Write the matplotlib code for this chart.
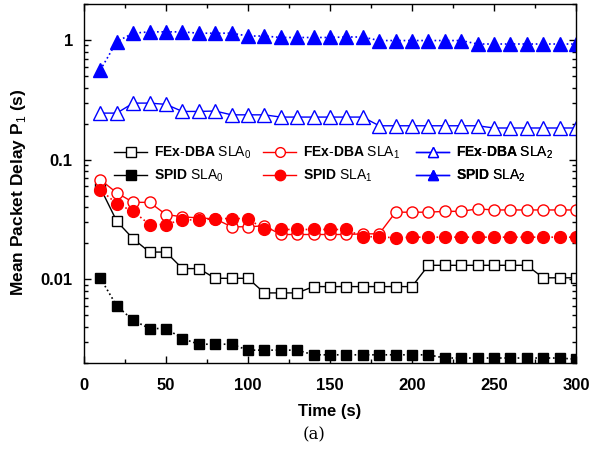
import matplotlib
matplotlib.use("Agg")
import matplotlib.pyplot as plt
from matplotlib.lines import Line2D
from matplotlib.ticker import FixedLocator, FuncFormatter, LogLocator, NullFormatter

plt.rcParams['font.family'] = 'Liberation Sans'
plt.rcParams['mathtext.fontset'] = 'custom'
plt.rcParams['mathtext.rm'] = 'Liberation Sans'
plt.rcParams['mathtext.bf'] = 'Liberation Sans:bold'

time = list(range(10, 301, 10))

fex_sla0 = [0.058, 0.0306, 0.0218, 0.0169, 0.0169, 0.0123, 0.0123, 0.0102, 0.0102, 0.0102,
            0.0077, 0.0077, 0.0077, 0.0087, 0.0087, 0.0087, 0.0087, 0.0087, 0.0087, 0.0087,
            0.0131, 0.0131, 0.0131, 0.0131, 0.0131, 0.0131, 0.0131, 0.0103, 0.0103, 0.0103]
fex_sla1 = [0.068, 0.0528, 0.044, 0.044, 0.0348, 0.0333, 0.0326, 0.032, 0.0275, 0.0275,
            0.028, 0.0237, 0.0237, 0.0237, 0.0237, 0.0237, 0.024, 0.024, 0.0364, 0.0364,
            0.0364, 0.037, 0.037, 0.0388, 0.038, 0.038, 0.038, 0.038, 0.038, 0.038]
fex_sla2 = [0.245, 0.245, 0.297, 0.297, 0.29, 0.253, 0.253, 0.255, 0.237, 0.237,
            0.237, 0.227, 0.227, 0.227, 0.227, 0.227, 0.227, 0.192, 0.192, 0.192,
            0.192, 0.192, 0.192, 0.192, 0.184, 0.184, 0.184, 0.184, 0.184, 0.184]
spid_sla0 = [0.0102, 0.006, 0.00455, 0.00388, 0.00388, 0.0032, 0.00287, 0.00287, 0.00287, 0.00256,
             0.00256, 0.00256, 0.00256, 0.00234, 0.00234, 0.00234, 0.00234, 0.00234, 0.00234, 0.00234,
             0.00234, 0.0022, 0.0022, 0.0022, 0.0022, 0.0022, 0.0022, 0.0022, 0.0022, 0.00215]
spid_sla1 = [0.056, 0.0428, 0.037, 0.0287, 0.0287, 0.0316, 0.0312, 0.0322, 0.0322, 0.0322,
             0.0261, 0.0261, 0.0261, 0.0261, 0.0261, 0.0261, 0.0227, 0.0227, 0.0222, 0.0225,
             0.0225, 0.0225, 0.0225, 0.0225, 0.0225, 0.0225, 0.0225, 0.0225, 0.0225, 0.0225]
spid_sla2 = [0.562, 0.97, 1.14, 1.17, 1.17, 1.17, 1.14, 1.14, 1.14, 1.08,
             1.08, 1.05, 1.05, 1.05, 1.05, 1.06, 1.06, 0.99, 0.99, 0.99,
             0.99, 0.99, 0.99, 0.926, 0.926, 0.926, 0.926, 0.926, 0.926, 0.926]

fex_labels = [r'$\mathbf{FEx}$-$\mathbf{DBA}$ SLA$_%d$' % i for i in range(3)]
spid_labels = [r'$\mathbf{SPID}$ SLA$_%d$' % i for i in range(3)]
colors = ['black', 'red', 'blue']
markers = ['s', 'o', '^']

fig = plt.figure(figsize=(6.02, 4.59), dpi=100)
ax = fig.add_axes([0.1395, 0.2092, 0.8173, 0.7821])

ax.plot(time, fex_sla0, '-', color='black', lw=1, marker='s', ms=7.5, mfc='white', mec='black')
ax.plot(time, fex_sla1, '-', color='red', lw=1, marker='o', ms=8, mfc='white', mec='red')
ax.plot(time, fex_sla2, '-', color='blue', lw=1, marker='^', ms=9.5, mfc='white', mec='blue')
ax.plot(time, spid_sla0, ':', color='black', lw=1.2, marker='s', ms=7.5, mfc='black', mec='black')
ax.plot(time, spid_sla1, ':', color='red', lw=1.2, marker='o', ms=8.5, mfc='red', mec='red')
ax.plot(time, spid_sla2, ':', color='blue', lw=1.2, marker='^', ms=10, mfc='blue', mec='blue')

ax.set_yscale('log')
ax.set_xlim(0, 300)
ax.set_ylim(0.002, 2.0)
ax.set_xticks([0, 50, 100, 150, 200, 250, 300])
ax.xaxis.set_minor_locator(FixedLocator([25, 75, 125, 175, 225, 275]))
ax.yaxis.set_major_locator(FixedLocator([0.01, 0.1, 1]))
ax.yaxis.set_major_formatter(FuncFormatter(lambda v, p: {0.01: '0.01', 0.1: '0.1', 1: '1'}.get(round(v, 3), '')))
ax.yaxis.set_minor_locator(LogLocator(base=10, subs=range(2, 10)))
ax.yaxis.set_minor_formatter(NullFormatter())
ax.tick_params(which='both', direction='in', top=True, right=True, width=1)
ax.tick_params(which='major', length=5, labelsize=12)
ax.tick_params(which='minor', length=3)
ax.tick_params(axis='x', which='major', pad=11)
ax.tick_params(axis='y', which='major', pad=8)
for lab in ax.get_xticklabels() + ax.get_yticklabels():
    lab.set_fontweight('bold')
for sp in ax.spines.values():
    sp.set_linewidth(1)

ax.set_xlabel('Time (s)', fontsize=12, fontweight='bold', labelpad=8)
ax.set_ylabel(r'Mean Packet Delay P$_1$ (s)', fontsize=12.5, fontweight='bold')
ax.yaxis.set_label_coords(-0.114, 0.476)

# one legend per column, like the original layout
col_x = [117, 266, 419]
for i in range(3):
    h_fex = Line2D([], [], color=colors[i], lw=1, marker=markers[i], ms=7, mfc='white', mec=colors[i])
    h_spid = Line2D([], [], color=colors[i], lw=1, marker=markers[i], ms=7.5, mfc=colors[i], mec=colors[i])
    leg = ax.legend([h_fex, h_spid], [fex_labels[i], spid_labels[i]], loc='upper left',
                    bbox_to_anchor=((col_x[i] - 84) / 492 - 0.012, (363 - 142) / 359),
                    frameon=False, fontsize=10, handlelength=2.4, handletextpad=0.5,
                    labelspacing=0.45, borderpad=0.2, borderaxespad=0)
    ax.add_artist(leg)

fig.text(0.522, 0.052, '(a)', fontsize=12, family='DejaVu Serif', ha='center', va='center')

fig.savefig('out.png', dpi=100)
